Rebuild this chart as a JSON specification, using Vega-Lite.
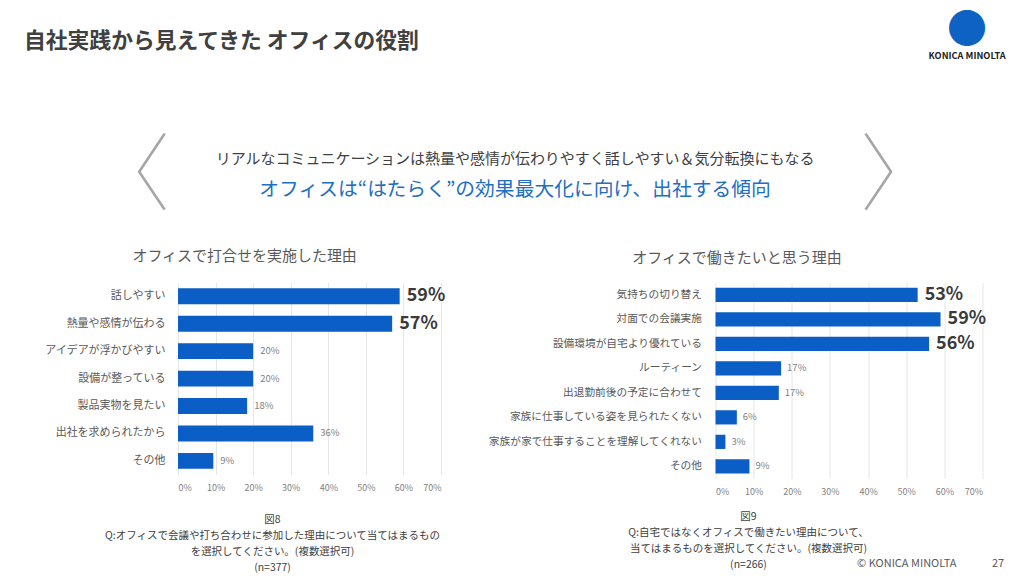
{
  "$schema": "https://vega.github.io/schema/vega-lite/v6.json",
  "background": "white",
  "padding": {"left": 24, "top": 10.6, "right": 5, "bottom": 5},
  "config": {
    "font": "Noto Sans CJK JP",
    "view": {"stroke": null},
    "axis": {"domain": false, "ticks": false, "labelFont": "Noto Sans CJK JP", "titleFont": "Noto Sans CJK JP"},
    "title": {"font": "Noto Sans CJK JP", "subtitleFont": "Noto Sans CJK JP"}
  },
  "datasets": {
    "left": [
      {"reason": "話しやすい", "value": 0.59},
      {"reason": "熱量や感情が伝わる", "value": 0.57},
      {"reason": "アイデアが浮かびやすい", "value": 0.20},
      {"reason": "設備が整っている", "value": 0.20},
      {"reason": "製品実物を見たい", "value": 0.184},
      {"reason": "出社を求められたから", "value": 0.36},
      {"reason": "その他", "value": 0.094}
    ],
    "right": [
      {"reason": "気持ちの切り替え", "value": 0.53},
      {"reason": "対面での会議実施", "value": 0.59},
      {"reason": "設備環境が自宅より優れている", "value": 0.56},
      {"reason": "ルーティーン", "value": 0.172},
      {"reason": "出退勤前後の予定に合わせて", "value": 0.166},
      {"reason": "家族に仕事している姿を見られたくない", "value": 0.056},
      {"reason": "家族が家で仕事することを理解してくれない", "value": 0.026},
      {"reason": "その他", "value": 0.089}
    ]
  },
  "title": {
    "text": "●",
    "subtitle": "KONICA MINOLTA",
    "anchor": "end",
    "align": "center",
    "frame": "bounds",
    "dx": -37,
    "fontSize": 40,
    "fontWeight": "normal",
    "color": "#0e62c4",
    "subtitleFontSize": 9.2,
    "subtitleFontWeight": 600,
    "subtitleColor": "#222222",
    "subtitlePadding": 1,
    "offset": -30.6
  },
  "vconcat": [
    {
      "title": {
        "text": "自社実践から見えてきた オフィスの役割",
        "anchor": "start",
        "frame": "bounds",
        "dx": -20,
        "fontSize": 21.8,
        "fontWeight": "bold",
        "color": "#404040",
        "offset": 84
      },
      "vconcat": [
        {
          "title": {
            "text": "© KONICA MINOLTA　　　 27",
            "orient": "bottom",
            "anchor": "end",
            "frame": "bounds",
            "dx": 18,
            "fontSize": 11,
            "fontWeight": "normal",
            "color": "#595959",
            "offset": -15
          },
          "vconcat": [
            {
              "title": {
                "text": "〈　　　　　　　　 〉",
                "anchor": "middle",
                "frame": "bounds",
                "fontSize": 84,
                "fontWeight": 100,
                "color": "#a6a6a6",
                "offset": -70
              },
              "vconcat": [
                {
                  "title": {
                    "text": "リアルなコミュニケーションは熱量や感情が伝わりやすく話しやすい＆気分転換にもなる",
                    "subtitle": "オフィスは“はたらく”の効果最大化に向け、出社する傾向",
                    "anchor": "middle",
                    "frame": "bounds",
                    "fontSize": 15,
                    "fontWeight": "normal",
                    "color": "#404040",
                    "subtitleFontSize": 19.8,
                    "subtitleColor": "#1e6fc2",
                    "subtitlePadding": 13,
                    "offset": 49
                  },
                  "bounds": "flush",
                  "spacing": 274.5,
                  "hconcat": [
                    {
                      "width": 263,
                      "height": 192,
                      "data": {"name": "left"},
                      "title": {"text": "オフィスで打合せを実施した理由", "fontSize": 15, "fontWeight": "normal", "color": "#595959", "anchor": "middle", "frame": "bounds", "offset": 19},
                      "encoding": {
                        "y": {"field": "reason", "type": "nominal", "sort": null,
                          "scale": {"paddingInner": 0.42, "paddingOuter": 0.21},
                          "axis": {"title": null, "labelFontSize": 11, "labelColor": "#595959", "labelPadding": 13, "grid": false, "labelLimit": 300}},
                        "x": {"field": "value", "type": "quantitative", "scale": {"domain": [0, 0.7], "nice": false},
                          "axis": {"values": [0, 0.1, 0.2, 0.3, 0.4, 0.5, 0.6, 0.7], "format": ".0%", "labelFontSize": 9, "labelColor": "#7f7f7f", "labelPadding": 9,
                            "grid": true, "gridColor": "#e6e6e6",
                            "title": ["図8", "Q:オフィスで会議や打ち合わせに参加した理由について当てはまるもの", "を選択してください。(複数選択可)", "(n=377)"],
                            "titleFontSize": 10.5, "titleFontWeight": "normal", "titleColor": "#404040", "titleLineHeight": 16,
                            "titleX": 94, "titleY": 40, "titleAlign": "center", "titleBaseline": "top"}}
                      },
                      "layer": [
                        {"mark": {"type": "bar", "color": "#0b5ec5"}},
                        {"transform": [{"filter": "datum.value >= 0.5"}],
                         "mark": {"type": "text", "align": "left", "baseline": "middle", "dx": 7, "fontSize": 18, "fontWeight": 600, "color": "#3a3a3a"},
                         "encoding": {"text": {"field": "value", "type": "quantitative", "format": ".0%"}}},
                        {"transform": [{"filter": "datum.value < 0.5"}],
                         "mark": {"type": "text", "align": "left", "baseline": "middle", "dx": 7, "fontSize": 9.5, "color": "#7f7f7f"},
                         "encoding": {"text": {"field": "value", "type": "quantitative", "format": ".0%"}}}
                      ]
                    },
                    {
                      "width": 267,
                      "height": 196,
                      "data": {"name": "right"},
                      "title": {"text": "オフィスで働きたいと思う理由", "fontSize": 15, "fontWeight": "normal", "color": "#595959", "anchor": "middle", "frame": "bounds", "offset": 17},
                      "encoding": {
                        "y": {"field": "reason", "type": "nominal", "sort": null,
                          "scale": {"paddingInner": 0.42, "paddingOuter": 0.21},
                          "axis": {"title": null, "labelFontSize": 10.7, "labelColor": "#595959", "labelPadding": 14, "grid": false, "labelLimit": 300}},
                        "x": {"field": "value", "type": "quantitative", "scale": {"domain": [0, 0.7], "nice": false},
                          "axis": {"values": [0, 0.1, 0.2, 0.3, 0.4, 0.5, 0.6, 0.7], "format": ".0%", "labelFontSize": 9, "labelColor": "#7f7f7f", "labelPadding": 9,
                            "grid": true, "gridColor": "#e6e6e6",
                            "title": ["図9", "Q:自宅ではなくオフィスで働きたい理由について、", "当てはまるものを選択してください。(複数選択可)", "(n=266)"],
                            "titleFontSize": 10.5, "titleFontWeight": "normal", "titleColor": "#404040", "titleLineHeight": 16,
                            "titleX": 32.5, "titleY": 33, "titleAlign": "center", "titleBaseline": "top"}}
                      },
                      "layer": [
                        {"mark": {"type": "bar", "color": "#0b5ec5"}},
                        {"transform": [{"filter": "datum.value >= 0.5"}],
                         "mark": {"type": "text", "align": "left", "baseline": "middle", "dx": 7, "fontSize": 18, "fontWeight": 600, "color": "#3a3a3a"},
                         "encoding": {"text": {"field": "value", "type": "quantitative", "format": ".0%"}}},
                        {"transform": [{"filter": "datum.value < 0.5"}],
                         "mark": {"type": "text", "align": "left", "baseline": "middle", "dx": 6, "fontSize": 9.5, "color": "#7f7f7f"},
                         "encoding": {"text": {"field": "value", "type": "quantitative", "format": ".0%"}}}
                      ]
                    }
                  ]
                }
              ]
            }
          ]
        }
      ]
    }
  ]
}
